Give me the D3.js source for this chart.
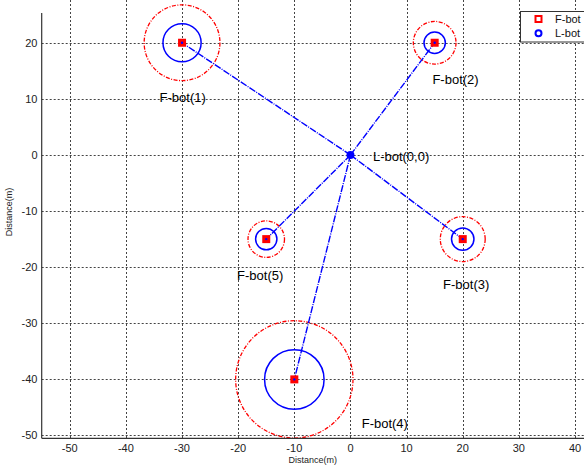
<!DOCTYPE html>
<html>
<head>
<meta charset="utf-8">
<script src="https://cdn.jsdelivr.net/npm/d3@7"></script>
<style>
  html, body { margin: 0; padding: 0; background: #fff; }
  svg { display: block; font-family: "Liberation Sans", Arial, sans-serif; }
</style>
</head>
<body>
<svg id="chart" width="584" height="467"></svg>
<script>
// Follower robots (F-bot) and the leader robot (L-bot), positions in metres
const followerNames = ["F-bot(1)", "F-bot(2)", "F-bot(3)", "F-bot(4)", "F-bot(5)"];
const followerX = [-30, 15, 20, -10, -15];
const followerY = [20, 20, -15, -40, -15];
const innerRadius = [3.4, 1.9, 2.0, 5.3, 1.9];   // solid blue ring (m)
const outerRadius = [6.75, 3.8, 4.0, 10.45, 3.25]; // dashed red ring (m)
const labelX = [-34, 14.6, 16.5, 2, -20.2];
const labelY = [10.2, 13.5, -23, -47.8, -21.4];

const leaderName = "L-bot(0,0)";
const leaderX = 0;
const leaderY = 0;
const leaderLabelX = 4;
const leaderLabelY = -0.3;

const xTicks = [-50, -40, -30, -20, -10, 0, 10, 20, 30, 40];
const yTicks = [-50, -40, -30, -20, -10, 0, 10, 20];
const legendItems = ["F-bot", "L-bot"];

const svg = d3.select("#chart");

const x = d3.scaleLinear().domain([-55, 41.6]).range([41.7, 584]);
const y = d3.scaleLinear().domain([-50.5, 25.3]).range([438.3, 13]);
const px = r => x(r) - x(0);

const plotTop = 0, plotBottom = 438.3, plotLeft = 41.7, plotRight = 584;

// grid
const grid = svg.append("g").attr("stroke", "#444").attr("stroke-width", 1)
  .attr("stroke-dasharray", "2,2").attr("fill", "none");
grid.selectAll("line.vx").data(xTicks).join("line")
  .attr("x1", d => Math.round(x(d)) + 0.5).attr("x2", d => Math.round(x(d)) + 0.5)
  .attr("y1", plotTop).attr("y2", plotBottom);
grid.selectAll("line.hy").data(yTicks).join("line")
  .attr("y1", d => Math.round(y(d)) + 0.5).attr("y2", d => Math.round(y(d)) + 0.5)
  .attr("x1", plotLeft).attr("x2", plotRight);

const idx = d3.range(followerNames.length);

// outer dashed range rings
svg.append("g").selectAll("circle").data(idx).join("circle")
  .attr("cx", i => x(followerX[i])).attr("cy", i => y(followerY[i]))
  .attr("r", i => px(outerRadius[i]))
  .attr("fill", "none").attr("stroke", "#ff0000").attr("stroke-width", 1.3)
  .attr("stroke-dasharray", "4,1.5,1,1.5");

// inner solid rings
svg.append("g").selectAll("circle").data(idx).join("circle")
  .attr("cx", i => x(followerX[i])).attr("cy", i => y(followerY[i]))
  .attr("r", i => px(innerRadius[i]))
  .attr("fill", "none").attr("stroke", "#0000ff").attr("stroke-width", 1.5);

// links from leader to followers
svg.append("g").selectAll("line").data(idx).join("line")
  .attr("x1", x(leaderX)).attr("y1", y(leaderY))
  .attr("x2", i => x(followerX[i])).attr("y2", i => y(followerY[i]))
  .attr("stroke", "#0000ff").attr("stroke-width", 1.4)
  .attr("stroke-dasharray", "7,1.2,1,1.2");

// follower markers
const fm = svg.append("g");
fm.selectAll("rect").data(idx).join("rect")
  .attr("x", i => x(followerX[i]) - 4).attr("y", i => y(followerY[i]) - 4)
  .attr("width", 8).attr("height", 8).attr("fill", "#ff0000");
fm.selectAll("circle").data(idx).join("circle")
  .attr("cx", i => x(followerX[i])).attr("cy", i => y(followerY[i]))
  .attr("r", 1.2).attr("fill", "#0000ff");

// leader marker
svg.append("circle").attr("cx", x(leaderX)).attr("cy", y(leaderY))
  .attr("r", 4).attr("fill", "#0000ff");

// annotations
svg.append("g").selectAll("text").data(idx).join("text")
  .attr("x", i => x(labelX[i])).attr("y", i => y(labelY[i]))
  .attr("dominant-baseline", "central")
  .attr("font-size", 13).attr("fill", "#000")
  .text(i => followerNames[i]);
svg.append("text").attr("x", x(leaderLabelX)).attr("y", y(leaderLabelY))
  .attr("dominant-baseline", "central").attr("font-size", 13).attr("fill", "#000")
  .text(leaderName);

// axes
svg.append("line").attr("x1", plotLeft).attr("x2", plotLeft).attr("y1", 13).attr("y2", plotBottom)
  .attr("stroke", "#333").attr("stroke-width", 1.2);
svg.append("line").attr("x1", plotLeft).attr("x2", plotRight).attr("y1", plotBottom).attr("y2", plotBottom)
  .attr("stroke", "#333").attr("stroke-width", 1.2);

svg.append("g").selectAll("text").data(xTicks).join("text")
  .attr("x", d => x(d)).attr("y", 452)
  .attr("text-anchor", "middle").attr("font-size", 11).attr("fill", "#222")
  .text(d => d);
svg.append("g").selectAll("text").data(yTicks).join("text")
  .attr("x", 37.5).attr("y", d => y(d))
  .attr("text-anchor", "end").attr("dominant-baseline", "central")
  .attr("font-size", 11).attr("fill", "#222")
  .text(d => d);

svg.append("text").attr("x", (plotLeft + plotRight) / 2).attr("y", 463)
  .attr("text-anchor", "middle").attr("font-size", 9).attr("fill", "#222")
  .text("Distance(m)");
svg.append("text").attr("transform", "translate(12,212) rotate(-90)")
  .attr("text-anchor", "middle").attr("font-size", 9).attr("fill", "#222")
  .text("Distance(m)");

// legend
const lg = svg.append("g");
lg.append("rect").attr("x", 520.5).attr("y", 11.5).attr("width", 80).attr("height", 30.5)
  .attr("fill", "#fff").attr("stroke", "#333").attr("stroke-width", 1);
lg.append("rect").attr("x", 535.5).attr("y", 16).attr("width", 6).attr("height", 6)
  .attr("fill", "#fff").attr("stroke", "#ff0000").attr("stroke-width", 2);
lg.append("circle").attr("cx", 538.5).attr("cy", 33.3).attr("r", 3)
  .attr("fill", "#fff").attr("stroke", "#0000ff").attr("stroke-width", 2);
lg.selectAll("text").data(legendItems).join("text")
  .attr("x", 555).attr("y", (d, i) => 19 + i * 14.3)
  .attr("dominant-baseline", "central").attr("font-size", 11).attr("fill", "#111")
  .text(d => d);
</script>
</body>
</html>
